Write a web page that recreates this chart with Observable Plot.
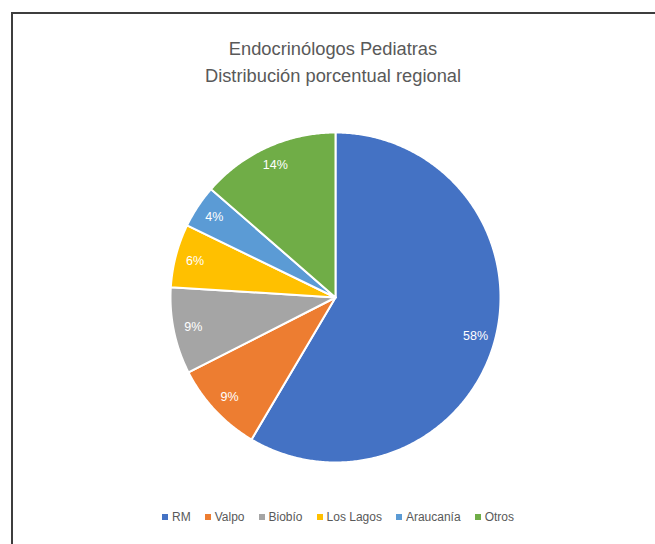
<!DOCTYPE html>
<html>
<head>
<meta charset="utf-8">
<script src="https://cdn.jsdelivr.net/npm/d3@7"></script>
<script src="https://cdn.jsdelivr.net/npm/@observablehq/plot@0.6"></script>
<style>
  html, body { margin: 0; padding: 0; background: #fff; overflow: hidden; width: 655px; height: 544px; }
  #wrap { position: relative; width: 655px; height: 544px; }
  #frame { position: absolute; left: 11px; top: 12px; width: 700px; height: 600px; border: 2px solid #3d3d3d; box-sizing: border-box; }
  #title { position: absolute; left: 0; width: 666px; top: 35px; text-align: center; font-family: "Liberation Sans", sans-serif; font-size: 18.3px; line-height: 27px; color: #595959; }
  #chart { position: absolute; left: 0; top: 0; }
  #legend { position: absolute; left: 0; top: 507px; width: 690px; display: flex; justify-content: center; }
  .lg-swatches { font-family: "Liberation Sans", sans-serif !important; font-size: 12px !important; color: #595959 !important; min-height: 20px !important; margin: 0 !important; }
  .lg-swatch { margin-right: 14px !important; }
  .lg-swatch > svg { margin-right: 4px !important; }
</style>
</head>
<body>
<div id="wrap">
  <div id="frame"></div>
  <div id="title">Endocrinólogos Pediatras<br>Distribución porcentual regional</div>
  <div id="chart"></div>
  <div id="legend"></div>
</div>
<script>
const categories = ["RM", "Valpo", "Biobío", "Los Lagos", "Araucanía", "Otros"];
const values = [58.5, 9.0, 8.5, 6.2, 4.2, 13.6];
const labels = ["58%", "9%", "9%", "6%", "4%", "14%"];
const colors = ["#4472C4", "#ED7D31", "#A5A5A5", "#FFC000", "#5B9BD5", "#70AD47"];

const W = 655, H = 544, cx = 335, cy = 297, R = 165;

const pie = d3.pie().sort(null).value(d => d.value)(
  categories.map((c, i) => ({name: c, value: values[i], label: labels[i]}))
);

const pts = [];
pie.forEach(s => {
  const name = s.data.name;
  pts.push({name, x: 0, y: 0});
  const n = Math.max(2, Math.ceil((s.endAngle - s.startAngle) / (Math.PI / 360)));
  for (let k = 0; k <= n; k++) {
    const a = s.startAngle + (s.endAngle - s.startAngle) * k / n;
    pts.push({name, x: R * Math.sin(a), y: -R * Math.cos(a)});
  }
});
const labs = pie.map(s => {
  const a = (s.startAngle + s.endAngle) / 2;
  const r = 0.88 * R;
  return {name: s.data.name, label: s.data.label, x: r * Math.sin(a), y: -r * Math.cos(a)};
});

const chart = Plot.plot({
  width: W, height: H,
  margin: 0,
  style: {background: "transparent"},
  x: {domain: [-cx, W - cx], range: [0, W], axis: null},
  y: {domain: [-cy, H - cy], range: [0, H], axis: null},
  color: {domain: categories, range: colors},
  marks: [
    Plot.line(pts, {x: "x", y: "y", z: "name", fill: "name", stroke: "#fff", strokeWidth: 2, curve: "linear-closed", strokeLinejoin: "round"}),
    Plot.text(labs, {x: "x", y: "y", text: "label", fill: "#fff", fontSize: 12.5, fontFamily: "Liberation Sans, sans-serif"})
  ]
});
document.getElementById("chart").appendChild(chart);

const legend = Plot.legend({
  color: {domain: categories, range: colors},
  legend: "swatches",
  swatchSize: 6,
  className: "lg"
});
document.getElementById("legend").appendChild(legend);
</script>
</body>
</html>
